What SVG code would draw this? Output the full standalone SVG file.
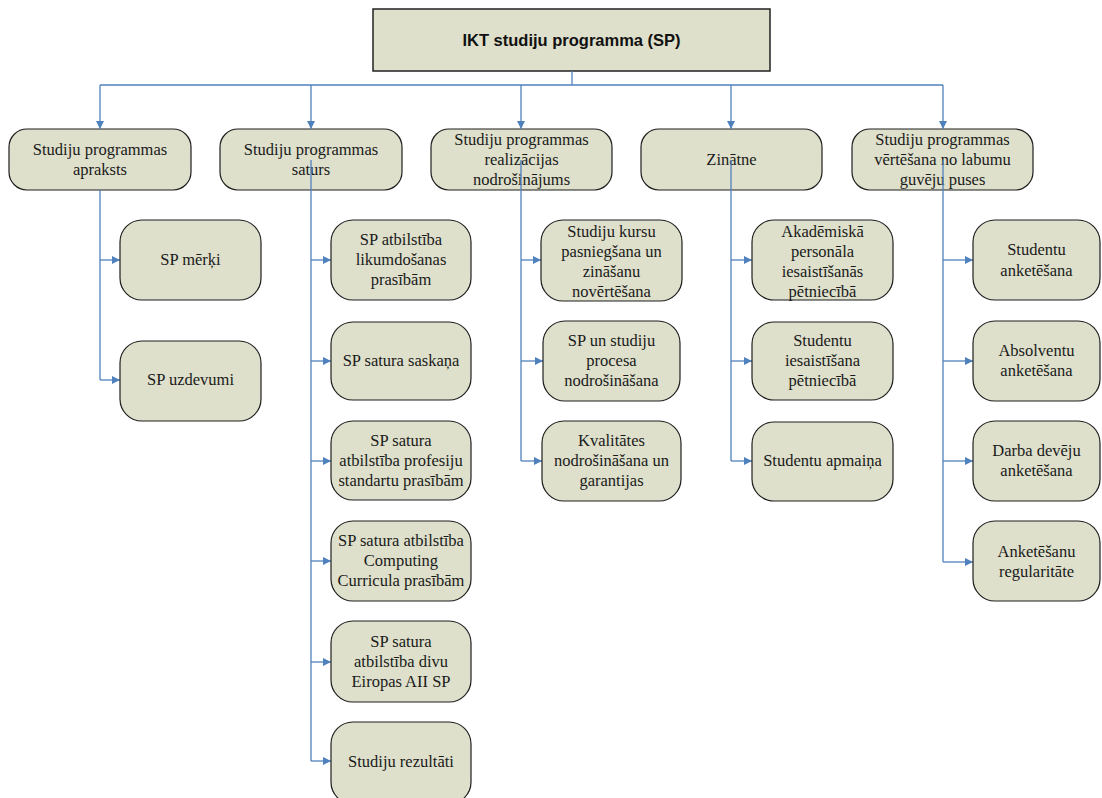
<svg xmlns="http://www.w3.org/2000/svg" width="1102" height="798" viewBox="0 0 1102 798">
<style>
.box{fill:#dee0cb;stroke:#1e1e1e;stroke-width:1.2}
.t{font-family:'Liberation Serif','DejaVu Serif',serif;font-size:16.5px;fill:#1a1a1a;text-anchor:middle}
.tb{font-family:'Liberation Sans','DejaVu Sans',sans-serif;font-size:16.5px;font-weight:bold;fill:#111;text-anchor:middle}
.c{fill:none;stroke:#4f81bd;stroke-width:1.3}
</style>
<defs>
<marker id="ah" viewBox="0 0 10 10" refX="10" refY="5" markerWidth="9" markerHeight="8" markerUnits="userSpaceOnUse" orient="auto">
<path d="M0,0 L10,5 L0,10 z" fill="#4f81bd"/>
</marker>
</defs>
<rect width="1102" height="798" fill="#ffffff"/>

<g id="root">
<rect x="373" y="9" width="397" height="62" fill="#dee0cb" stroke="#222" stroke-width="1.5"/>
<text class="tb" x="571.5" y="46">IKT studiju programma (SP)</text>
</g>

<g id="l1-apraksts">
<rect class="box" x="9" y="129" width="182" height="61" rx="18"/>
<text class="t" x="100" y="155">Studiju programmas</text>
<text class="t" x="100" y="175">apraksts</text>
</g>
<g id="l1-saturs">
<rect class="box" x="220" y="129" width="182" height="61" rx="18"/>
<text class="t" x="311" y="155">Studiju programmas</text>
<text class="t" x="311" y="175">saturs</text>
</g>
<g id="l1-realizacija">
<rect class="box" x="431" y="129" width="181" height="61" rx="18"/>
<text class="t" x="521.5" y="145">Studiju programmas</text>
<text class="t" x="521.5" y="165">realizācijas</text>
<text class="t" x="521.5" y="185">nodrošinājums</text>
</g>
<g id="l1-zinatne">
<rect class="box" x="641" y="129" width="181" height="61" rx="18"/>
<text class="t" x="731.5" y="165">Zinātne</text>
</g>
<g id="l1-vertesana">
<rect class="box" x="852" y="129" width="181" height="61" rx="18"/>
<text class="t" x="942.5" y="145">Studiju programmas</text>
<text class="t" x="942.5" y="165">vērtēšana no labumu</text>
<text class="t" x="942.5" y="185">guvēju puses</text>
</g>

<g id="connectors">
<path class="c" d="M572,71 V85"/>
<path class="c" d="M100,85 H943"/>
<path class="c" d="M100,85 V129" marker-end="url(#ah)"/>
<path class="c" d="M311,85 V129" marker-end="url(#ah)"/>
<path class="c" d="M521,85 V129" marker-end="url(#ah)"/>
<path class="c" d="M731,85 V129" marker-end="url(#ah)"/>
<path class="c" d="M943,85 V129" marker-end="url(#ah)"/>
<path class="c" d="M100,190 V380"/>
<path class="c" d="M100,260 H120" marker-end="url(#ah)"/>
<path class="c" d="M100,380 H120" marker-end="url(#ah)"/>
<path class="c" d="M311,160 V761"/>
<path class="c" d="M311,260 H331" marker-end="url(#ah)"/>
<path class="c" d="M311,361 H331" marker-end="url(#ah)"/>
<path class="c" d="M311,461 H331" marker-end="url(#ah)"/>
<path class="c" d="M311,561 H331" marker-end="url(#ah)"/>
<path class="c" d="M311,662 H331" marker-end="url(#ah)"/>
<path class="c" d="M311,761 H331" marker-end="url(#ah)"/>
<path class="c" d="M521,160 V461"/>
<path class="c" d="M521,260 H541" marker-end="url(#ah)"/>
<path class="c" d="M521,361 H543" marker-end="url(#ah)"/>
<path class="c" d="M521,461 H542" marker-end="url(#ah)"/>
<path class="c" d="M731,160 V461"/>
<path class="c" d="M731,260 H752" marker-end="url(#ah)"/>
<path class="c" d="M731,361 H752" marker-end="url(#ah)"/>
<path class="c" d="M731,461 H752" marker-end="url(#ah)"/>
<path class="c" d="M943,160 V562"/>
<path class="c" d="M943,260 H973" marker-end="url(#ah)"/>
<path class="c" d="M943,361 H973" marker-end="url(#ah)"/>
<path class="c" d="M943,461 H973" marker-end="url(#ah)"/>
<path class="c" d="M943,562 H973" marker-end="url(#ah)"/>
</g>

<g id="c1-merki">
<rect class="box" x="120" y="220" width="141" height="80" rx="22"/>
<text class="t" x="190.5" y="265">SP mērķi</text>
</g>
<g id="c1-uzdevumi">
<rect class="box" x="120" y="341" width="141" height="80" rx="22"/>
<text class="t" x="190.5" y="385">SP uzdevumi</text>
</g>

<g id="c2-likumdosana">
<rect class="box" x="331" y="220" width="140" height="80" rx="22"/>
<text class="t" x="401" y="245">SP atbilstība</text>
<text class="t" x="401" y="265">likumdošanas</text>
<text class="t" x="401" y="285">prasībām</text>
</g>
<g id="c2-saskana">
<rect class="box" x="331" y="322" width="140" height="78" rx="22"/>
<text class="t" x="401" y="366">SP satura saskaņa</text>
</g>
<g id="c2-profesiju">
<rect class="box" x="331" y="421" width="140" height="79" rx="22"/>
<text class="t" x="401" y="446">SP satura</text>
<text class="t" x="401" y="466">atbilstība profesiju</text>
<text class="t" x="401" y="486">standartu prasībām</text>
</g>
<g id="c2-computing">
<rect class="box" x="331" y="521" width="140" height="80" rx="22"/>
<text class="t" x="401" y="546">SP satura atbilstība</text>
<text class="t" x="401" y="566">Computing</text>
<text class="t" x="401" y="586">Curricula prasībām</text>
</g>
<g id="c2-eiropas">
<rect class="box" x="331" y="621" width="140" height="81" rx="22"/>
<text class="t" x="401" y="647">SP satura</text>
<text class="t" x="401" y="667">atbilstība divu</text>
<text class="t" x="401" y="687">Eiropas AII SP</text>
</g>
<g id="c2-rezultati">
<rect class="box" x="331" y="722" width="140" height="82" rx="22"/>
<text class="t" x="401" y="767">Studiju rezultāti</text>
</g>

<g id="c3-pasniegsana">
<rect class="box" x="541" y="220" width="141" height="81" rx="22"/>
<text class="t" x="611.5" y="237">Studiju kursu</text>
<text class="t" x="611.5" y="257">pasniegšana un</text>
<text class="t" x="611.5" y="277">zināšanu</text>
<text class="t" x="611.5" y="297">novērtēšana</text>
</g>
<g id="c3-process">
<rect class="box" x="543" y="321" width="137" height="80" rx="22"/>
<text class="t" x="611.5" y="346">SP un studiju</text>
<text class="t" x="611.5" y="366">procesa</text>
<text class="t" x="611.5" y="386">nodrošināšana</text>
</g>
<g id="c3-kvalitate">
<rect class="box" x="542" y="421" width="139" height="80" rx="22"/>
<text class="t" x="611.5" y="446">Kvalitātes</text>
<text class="t" x="611.5" y="466">nodrošināšana un</text>
<text class="t" x="611.5" y="486">garantijas</text>
</g>

<g id="c4-akademiska">
<rect class="box" x="752" y="220" width="141" height="80" rx="22"/>
<text class="t" x="822.5" y="237">Akadēmiskā</text>
<text class="t" x="822.5" y="257">personāla</text>
<text class="t" x="822.5" y="277">iesaistīšanās</text>
<text class="t" x="822.5" y="297">pētniecībā</text>
</g>
<g id="c4-studenti">
<rect class="box" x="752" y="322" width="141" height="78" rx="22"/>
<text class="t" x="822.5" y="346">Studentu</text>
<text class="t" x="822.5" y="366">iesaistīšana</text>
<text class="t" x="822.5" y="386">pētniecībā</text>
</g>
<g id="c4-apmaina">
<rect class="box" x="752" y="422" width="141" height="79" rx="22"/>
<text class="t" x="822.5" y="466">Studentu apmaiņa</text>
</g>

<g id="c5-studentu">
<rect class="box" x="973" y="220" width="127" height="80" rx="22"/>
<text class="t" x="1036.5" y="255">Studentu</text>
<text class="t" x="1036.5" y="276">anketēšana</text>
</g>
<g id="c5-absolventu">
<rect class="box" x="973" y="321" width="127" height="80" rx="22"/>
<text class="t" x="1036.5" y="356">Absolventu</text>
<text class="t" x="1036.5" y="376">anketēšana</text>
</g>
<g id="c5-darba">
<rect class="box" x="973" y="421" width="127" height="80" rx="22"/>
<text class="t" x="1036.5" y="456">Darba devēju</text>
<text class="t" x="1036.5" y="476">anketēšana</text>
</g>
<g id="c5-regularitate">
<rect class="box" x="973" y="521" width="127" height="80" rx="22"/>
<text class="t" x="1036.5" y="557">Anketēšanu</text>
<text class="t" x="1036.5" y="577">regularitāte</text>
</g>
</svg>
